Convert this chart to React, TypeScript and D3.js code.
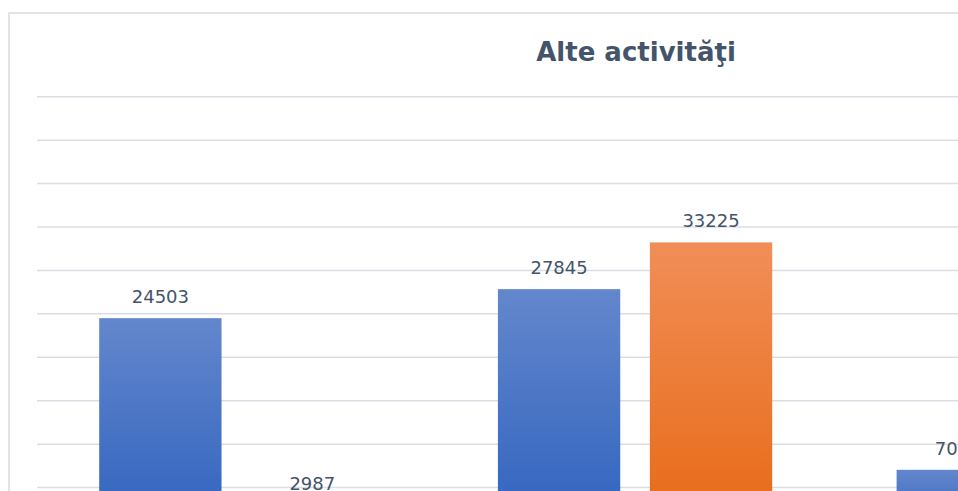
import React, { useEffect, useRef } from 'react';
import * as d3 from 'd3';

// chart data (the picture is a crop: category labels and the right part are outside it)
const categories = ['Categoria 1', 'Categoria 2', 'Categoria 3'];
const seriesNames = ['Seria 1', 'Seria 2'];
const seriesA = [24503, 27845, 7045];
const seriesB: (number | null)[] = [2987, 33225, null];
const yTicks = [0, 5000, 10000, 15000, 20000, 25000, 30000, 35000, 40000, 45000, 50000];
const title = 'Alte activităţi';

const W = 958;
const H = 491;

const App: React.FC = () => {
  const svgRef = useRef<SVGSVGElement>(null);

  useEffect(() => {
    if (!svgRef.current) return;
    const svg = d3.select(svgRef.current);
    svg.selectAll('*').remove();

    const plotLeft = 37;
    const step = 398.7;
    const plotRight = plotLeft + step * categories.length;

    const x0 = d3.scaleBand<string>()
      .domain(categories)
      .range([plotLeft, plotRight])
      .paddingInner(0.312)
      .paddingOuter(0.156);

    const x1 = d3.scaleBand<string>()
      .domain(seriesNames)
      .range([0, x0.bandwidth()])
      .paddingInner(0.195)
      .paddingOuter(0);

    const y = d3.scaleLinear()
      .domain([0, 50000])
      .range([531, 96.7]);

    // gradients
    const defs = svg.append('defs');
    const grads = [
      { id: 'gradA', top: '#6387cc', bottom: '#2f62be' },
      { id: 'gradB', top: '#f18e57', bottom: '#e76915' }
    ];
    grads.forEach(g => {
      const lg = defs.append('linearGradient')
        .attr('id', g.id)
        .attr('x1', 0).attr('y1', 0)
        .attr('x2', 0).attr('y2', 1);
      lg.append('stop').attr('offset', '0%').attr('stop-color', g.top);
      lg.append('stop').attr('offset', '100%').attr('stop-color', g.bottom);
    });

    // background + frame
    svg.append('rect')
      .attr('x', 0).attr('y', 0)
      .attr('width', W).attr('height', H)
      .style('fill', '#ffffff');

    svg.append('rect')
      .attr('x', 9).attr('y', 13)
      .attr('width', 1300).attr('height', 700)
      .style('fill', '#ffffff')
      .style('stroke', '#e1e4e9')
      .style('stroke-width', 2);

    // gridlines
    svg.append('g')
      .selectAll('line')
      .data(yTicks)
      .enter()
      .append('line')
      .attr('x1', plotLeft)
      .attr('x2', plotRight)
      .attr('y1', d => y(d))
      .attr('y2', d => y(d))
      .style('stroke', '#dadee4')
      .style('stroke-width', 1.5);

    // title
    svg.append('text')
      .attr('x', 636)
      .attr('y', 61)
      .attr('text-anchor', 'middle')
      .style('font-family', '"DejaVu Sans", Verdana, sans-serif')
      .style('font-weight', 'bold')
      .style('font-size', '26px')
      .style('fill', '#44546a')
      .text(title);

    // bars
    const rows = categories.map((c, i) => ({
      cat: c,
      vals: [seriesA[i], seriesB[i]]
    }));

    const groups = svg.append('g')
      .selectAll('g')
      .data(rows)
      .enter()
      .append('g')
      .attr('transform', d => `translate(${x0(d.cat)},0)`);

    const cells = groups.selectAll('g')
      .data(d => d.vals
        .map((v, j) => ({ name: seriesNames[j], v, j }))
        .filter(e => e.v !== null) as { name: string; v: number; j: number }[])
      .enter()
      .append('g');

    cells.append('rect')
      .attr('x', d => x1(d.name) as number)
      .attr('y', d => y(d.v))
      .attr('width', x1.bandwidth())
      .attr('height', d => y(0) - y(d.v))
      .style('fill', d => `url(#${grads[d.j].id})`);

    cells.append('text')
      .attr('x', d => (x1(d.name) as number) + x1.bandwidth() / 2)
      .attr('y', d => y(d.v) - 15)
      .attr('text-anchor', 'middle')
      .style('font-family', '"DejaVu Sans", Verdana, sans-serif')
      .style('font-size', '18px')
      .style('fill', '#44546a')
      .text(d => String(d.v));
  }, []);

  return (
    <svg
      ref={svgRef}
      width={W}
      height={H}
      style={{ position: 'fixed', left: 0, top: 0, display: 'block' }}
    />
  );
};

export default App;
